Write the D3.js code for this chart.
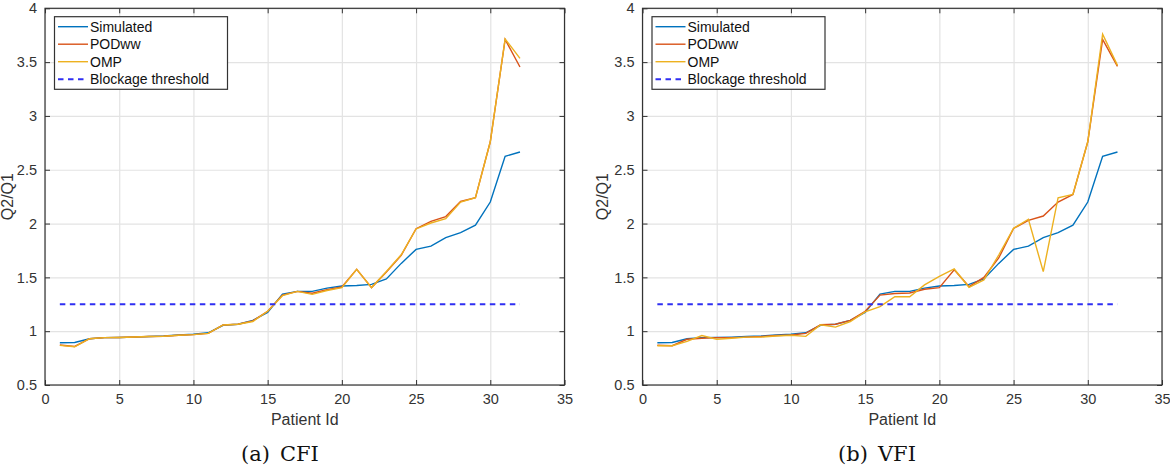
<!DOCTYPE html>
<html>
<head>
<meta charset="utf-8">
<script src="https://cdn.jsdelivr.net/npm/d3@7"></script>
<style>
  body { margin: 0; background: #fff; }
  svg { display: block; font-family: "Liberation Sans", Arial, sans-serif; }
  .grid line { stroke: #e3e3e3; stroke-width: 1.2; }
  .grid path { display: none; }
  .ax path { display: none; }
  .ax line { stroke: #333; stroke-width: 1; }
  .ax text { fill: #333; font-size: 14.5px; }
</style>
</head>
<body>
<div id="chart"></div>
<script>
'use strict';
// values (patient 1..32)
const patientIds = d3.range(1, 33)
const simulated = [0.893, 0.895, 0.93, 0.94, 0.942, 0.945, 0.95, 0.955, 0.965, 0.972, 0.985, 1.055, 1.065, 1.10, 1.175, 1.345,
    1.37, 1.37, 1.40, 1.42, 1.425, 1.435, 1.485, 1.63, 1.76, 1.79, 1.87, 1.915, 1.985, 2.20, 2.625, 2.665]
const podwwCFI = [0.872, 0.858, 0.93, 0.94, 0.942, 0.946, 0.95, 0.953, 0.962, 0.968, 0.98, 1.058, 1.065, 1.095, 1.185, 1.335,
    1.37, 1.352, 1.385, 1.41, 1.575, 1.405, 1.55, 1.705, 1.952, 2.02, 2.065, 2.205, 2.24, 2.76, 3.71, 3.455]
const ompCFI = [0.868, 0.855, 0.93, 0.94, 0.942, 0.946, 0.95, 0.953, 0.962, 0.968, 0.98, 1.058, 1.065, 1.09, 1.185, 1.33,
    1.37, 1.342, 1.378, 1.405, 1.575, 1.405, 1.555, 1.71, 1.95, 2.005, 2.045, 2.20, 2.24, 2.76, 3.715, 3.535]
const podwwVFI = [0.87, 0.865, 0.925, 0.935, 0.94, 0.94, 0.945, 0.95, 0.96, 0.965, 0.98, 1.06, 1.065, 1.10, 1.185, 1.335,
    1.35, 1.355, 1.39, 1.405, 1.57, 1.415, 1.50, 1.68, 1.955, 2.03, 2.07, 2.20, 2.27, 2.76, 3.71, 3.46]
const ompVFI = [0.865, 0.865, 0.905, 0.96, 0.925, 0.935, 0.945, 0.945, 0.955, 0.962, 0.952, 1.06, 1.038, 1.09, 1.18, 1.228,
    1.32, 1.32, 1.43, 1.51, 1.578, 1.408, 1.476, 1.708, 1.956, 2.04, 1.553, 2.24, 2.27, 2.76, 3.76, 3.47]
const threshold = 1.25
const xTicks = [0, 5, 10, 15, 20, 25, 30, 35]
const yTicks = [0.5, 1, 1.5, 2, 2.5, 3, 3.5, 4]
const legendLabels = ['Simulated', 'PODww', 'OMP', 'Blockage threshold']
const captions = [['(a)', 'CFI'], ['(b)', 'VFI']]

const colors = { sim: '#0072BD', pod: '#D95319', omp: '#EDB120', thr: '#2f2ff2' }
const panelLeft = [45, 642.5]
const yLabelOffset = [-32, -35] // left panel label sits against the page edge
const plotW = 519.5
const plotTop = 8.3
const plotH = 376.7
const captionX = [280, 877]

const svg = d3.select('#chart').append('svg')
    .attr('width', 1170)
    .attr('height', 469)

function drawPanel(i, pod, omp) {
    const g = svg.append('g')
        .attr('transform', `translate(${panelLeft[i]},${plotTop})`)
    const x = d3.scaleLinear().domain([0, 35]).range([0, plotW])
    const y = d3.scaleLinear().domain([0.5, 4]).range([plotH, 0])

    g.append('g') // vertical grid
        .attr('class', 'grid')
        .attr('transform', `translate(0,${plotH})`)
        .call(d3.axisBottom(x).tickValues(xTicks).tickSize(-plotH).tickFormat(''))
    g.append('g') // horizontal grid
        .attr('class', 'grid')
        .call(d3.axisLeft(y).tickValues(yTicks).tickSize(-plotW).tickFormat(''))

    const line = d3.line()
        .x((d, k) => x(patientIds[k]))
        .y(d => y(d))

    g.append('path').datum(simulated)
        .attr('fill', 'none').attr('stroke', colors.sim).attr('stroke-width', 1.4)
        .attr('d', line)
    g.append('path').datum(pod)
        .attr('fill', 'none').attr('stroke', colors.pod).attr('stroke-width', 1.4)
        .attr('d', line)
    g.append('path').datum(omp)
        .attr('fill', 'none').attr('stroke', colors.omp).attr('stroke-width', 1.4)
        .attr('d', line)
    g.append('line') // blockage threshold
        .attr('x1', x(patientIds[0])).attr('x2', x(patientIds[patientIds.length - 1]))
        .attr('y1', y(threshold)).attr('y2', y(threshold))
        .attr('stroke', colors.thr).attr('stroke-width', 2)
        .attr('stroke-dasharray', '5.5,4.5')

    // axes with inward ticks on all four sides
    g.append('g').attr('class', 'ax')
        .attr('transform', `translate(0,${plotH})`)
        .call(d3.axisBottom(x).tickValues(xTicks).tickSizeInner(-5).tickSizeOuter(0).tickPadding(9))
    g.append('g').attr('class', 'ax')
        .call(d3.axisTop(x).tickValues(xTicks).tickSizeInner(-5).tickSizeOuter(0).tickFormat(''))
    g.append('g').attr('class', 'ax')
        .call(d3.axisLeft(y).tickValues(yTicks).tickSizeInner(-5).tickSizeOuter(0).tickPadding(8)
            .tickFormat(d3.format('~g')))
    g.append('g').attr('class', 'ax')
        .attr('transform', `translate(${plotW},0)`)
        .call(d3.axisRight(y).tickValues(yTicks).tickSizeInner(-5).tickSizeOuter(0).tickFormat(''))
    g.append('rect') // axes box
        .attr('width', plotW).attr('height', plotH)
        .attr('fill', 'none').attr('stroke', '#333').attr('stroke-width', 1.2)

    g.append('text') // x label
        .attr('x', plotW / 2).attr('y', plotH + 40)
        .attr('text-anchor', 'middle')
        .attr('fill', '#333').style('font-size', '16px')
        .text('Patient Id')
    g.append('text') // y label
        .attr('transform', `translate(${yLabelOffset[i]},${plotH / 2}) rotate(-90)`)
        .attr('text-anchor', 'middle')
        .attr('fill', '#333').style('font-size', '16px')
        .text('Q2/Q1')

    // legend
    const lg = g.append('g').attr('transform', 'translate(9.5,8.4)')
    lg.append('rect')
        .attr('width', 173).attr('height', 72.6)
        .attr('fill', '#fff').attr('stroke', '#333').attr('stroke-width', 1.2)
    const lgColors = [colors.sim, colors.pod, colors.omp, colors.thr]
    legendLabels.forEach((lab, k) => {
        const cy = 10 + k * 17.5
        lg.append('line')
            .attr('x1', 3.5).attr('x2', 33.5).attr('y1', cy).attr('y2', cy)
            .attr('stroke', lgColors[k])
            .attr('stroke-width', k === 3 ? 2 : 1.4)
            .attr('stroke-dasharray', k === 3 ? '5.5,4.5' : null)
        lg.append('text')
            .attr('x', 35.5).attr('y', cy + 5)
            .attr('fill', '#111').style('font-size', '14px')
            .text(lab)
    })

    // sub-caption
    const cap = svg.append('text')
        .attr('x', captionX[i]).attr('y', 461)
        .attr('text-anchor', 'middle')
        .style('font-family', '"DejaVu Serif", serif')
        .style('font-size', '21px')
        .attr('fill', '#111')
    cap.append('tspan').text(captions[i][0])
    cap.append('tspan').attr('dx', 10).text(captions[i][1])
}

drawPanel(0, podwwCFI, ompCFI)
drawPanel(1, podwwVFI, ompVFI)
</script>
</body>
</html>
